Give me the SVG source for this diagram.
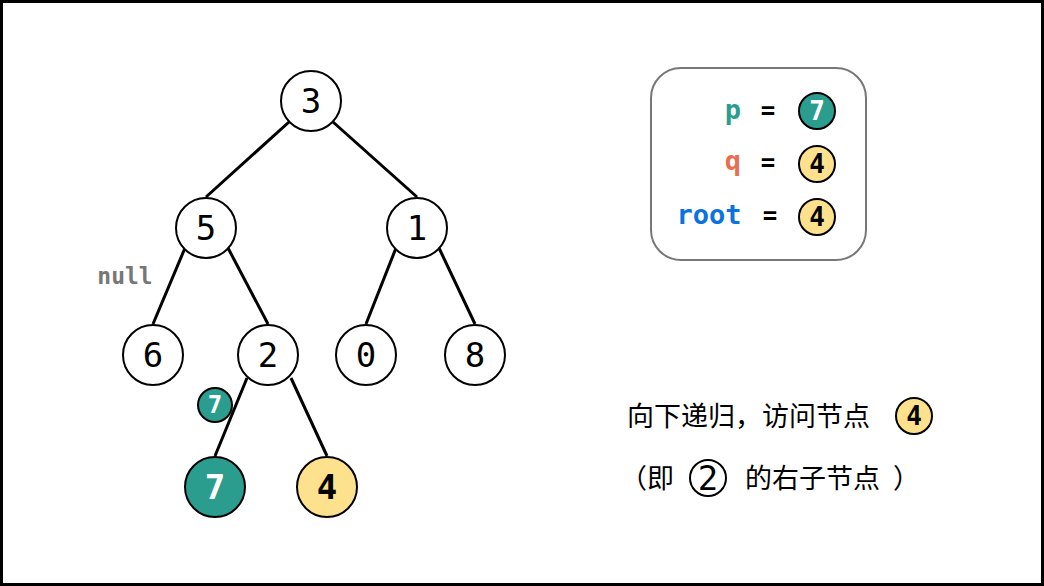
<svg xmlns="http://www.w3.org/2000/svg" width="1044" height="586" viewBox="0 0 1044 586">
<style>
.n{fill:#fff;stroke:#000;stroke-width:2}
.t{fill:#2a9d8f;stroke:#000;stroke-width:2}
.y{fill:#fee18c;stroke:#000;stroke-width:2}
.d{font-family:"DejaVu Sans Mono",monospace;font-size:34px;text-anchor:middle;dominant-baseline:central;fill:#000}
.b{font-family:"DejaVu Sans Mono",monospace;font-weight:bold;text-anchor:middle;dominant-baseline:central}
.e{stroke:#000;stroke-width:3;fill:none}
.c{font-family:"Noto Sans CJK SC",sans-serif;font-size:27px;fill:#000;dominant-baseline:central}
</style>
<rect x="1.5" y="1.5" width="1041" height="583" fill="#fff" stroke="#000" stroke-width="3"/>
<g id="connectors">
<line class="e" x1="289" y1="122" x2="206" y2="197"/>
<line class="e" x1="333" y1="122" x2="417" y2="197"/>
<line class="e" x1="185" y1="248" x2="153" y2="324"/>
<line class="e" x1="228" y1="248" x2="268" y2="324"/>
<line class="e" x1="396" y1="248" x2="366" y2="324"/>
<line class="e" x1="439" y1="248" x2="475" y2="324"/>
<line class="e" x1="247" y1="378" x2="215" y2="456"/>
<line class="e" x1="291" y1="378" x2="327" y2="456"/>
</g>
<g id="n3"><circle class="n" cx="311" cy="101" r="30"/><text class="d" x="311" y="101">3</text></g>
<g id="n5"><circle class="n" cx="206" cy="228" r="30"/><text class="d" x="206" y="228">5</text></g>
<g id="n1"><circle class="n" cx="417" cy="228" r="30"/><text class="d" x="417" y="228">1</text></g>
<g id="n6"><circle class="n" cx="153" cy="355" r="30"/><text class="d" x="153" y="355">6</text></g>
<g id="n2"><circle class="n" cx="268" cy="355" r="30"/><text class="d" x="268" y="355">2</text></g>
<g id="n0"><circle class="n" cx="366" cy="355" r="30"/><text class="d" x="366" y="355">0</text></g>
<g id="n8"><circle class="n" cx="475" cy="355" r="30"/><text class="d" x="475" y="355">8</text></g>
<g id="n7"><circle class="t" cx="215" cy="487" r="30"/><text class="b" x="215" y="487" font-size="34" fill="#fff">7</text></g>
<g id="n4"><circle class="y" cx="327" cy="487" r="30"/><text class="b" x="327" y="487" font-size="34" fill="#000">4</text></g>
<g id="p7"><circle class="t" cx="215" cy="405" r="17"/><text class="b" x="215" y="405" font-size="24" fill="#fff">7</text></g>
<g id="nulllabel"><text class="b" x="125" y="276" font-size="23" fill="#777">null</text></g>
<g id="legend">
<rect x="651" y="68" width="215" height="192" rx="30" fill="#fff" stroke="#777" stroke-width="2"/>
<text class="b" x="733" y="109" font-size="27" fill="#2a9d8f">p</text>
<text class="b" x="768" y="111" font-size="24" fill="#000">=</text>
<circle class="t" cx="817" cy="111" r="18"/><text class="b" x="817" y="111" font-size="26" fill="#fff">7</text>
<text class="b" x="733" y="160" font-size="27" fill="#e76f51">q</text>
<text class="b" x="768" y="163" font-size="24" fill="#000">=</text>
<circle class="y" cx="817" cy="164" r="18"/><text class="b" x="817" y="164" font-size="26" fill="#000">4</text>
<text class="b" x="709" y="214" font-size="27" fill="#0b72e0">root</text>
<text class="b" x="770" y="216" font-size="24" fill="#000">=</text>
<circle class="y" cx="817" cy="217" r="18"/><text class="b" x="817" y="217" font-size="26" fill="#000">4</text>
</g>
<g id="caption">
<text class="c" x="627" y="414">向下递归，访问节点</text>
<circle class="y" cx="914" cy="416" r="18"/><text class="b" x="914" y="416" font-size="26" fill="#000">4</text>
<text class="c" x="620" y="476">（即</text>
<circle class="n" cx="708" cy="478" r="18"/><text class="d" x="708" y="478" font-size="26">2</text>
<text class="c" x="745" y="476">的右子节点</text>
<text class="c" x="893" y="476">）</text>
</g>
</svg>
